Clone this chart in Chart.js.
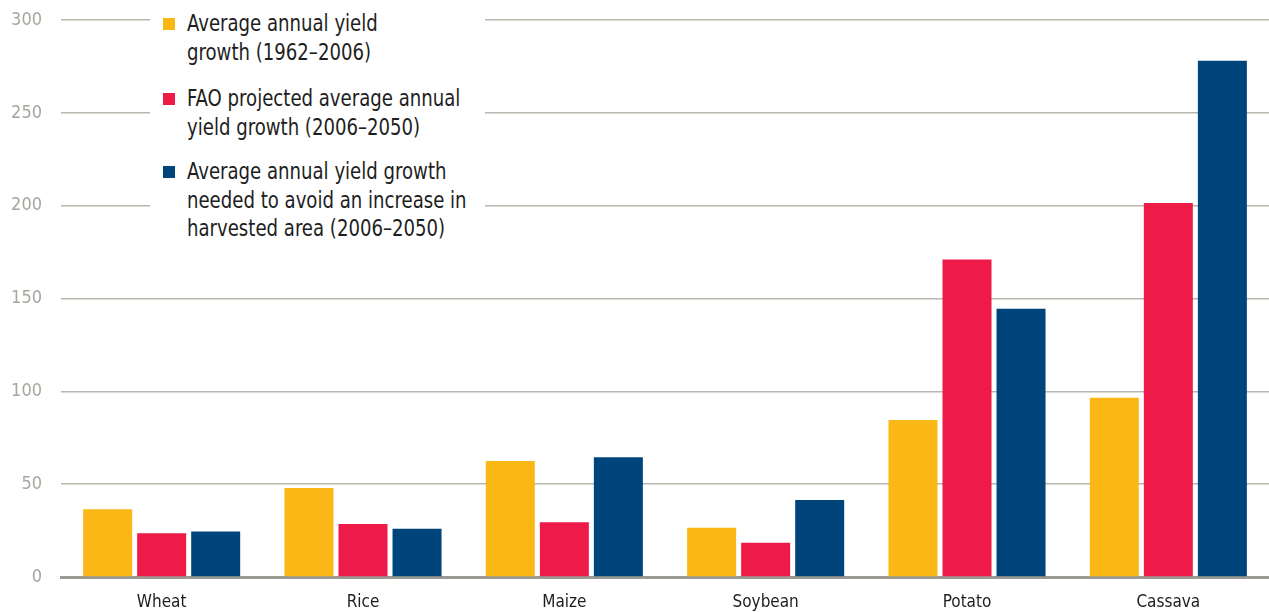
<!DOCTYPE html>
<html>
<head>
<meta charset="utf-8">
<script src="https://cdn.jsdelivr.net/npm/chart.js@4.4.1/dist/chart.umd.min.js"></script>
<style>
  html, body { margin: 0; padding: 0; background: #fff; }
  .wrap { position: relative; width: 1269px; height: 612px; }
  #legend {
    position: absolute; left: 150px; top: 0; width: 335px; height: 245px;
    background: #fff;
    font-family: "DejaVu Sans Condensed", Roboto, sans-serif;
    font-size: 23px; line-height: 28.5px; color: #1e1e1e;
  }
  .item { position: absolute; left: 37px; white-space: nowrap; }
  .item .txt { display: block; transform: scaleX(0.875); transform-origin: 0 0; }
  .item .sw { position: absolute; left: -24px; top: 9px; width: 12px; height: 12px; }
</style>
</head>
<body>
<div class="wrap">
  <canvas id="chart" width="1269" height="612"></canvas>
  <div id="legend"></div>
</div>
<script>
const crops = ['Wheat', 'Rice', 'Maize', 'Soybean', 'Potato', 'Cassava'];
const historic = [36.5, 48, 62.5, 26.5, 84.5, 96.5];
const faoProjected = [23.5, 28.5, 29.5, 18.5, 171, 201.5];
const neededGrowth = [24.5, 26, 64.5, 41.5, 144.5, 278];
const yTicks = [0, 50, 100, 150, 200, 250, 300];

const seriesNames = [
  ['Average annual yield', 'growth (1962\u20132006)'],
  ['FAO projected average annual', 'yield growth (2006\u20132050)'],
  ['Average annual yield growth', 'needed to avoid an increase in', 'harvested area (2006\u20132050)']
];
const colors = ['#FBB716', '#EE1A47', '#00447C'];

const font = '"DejaVu Sans Condensed", Roboto, sans-serif';

const chart = new Chart(document.getElementById('chart'), {
  type: 'bar',
  data: {
    labels: crops,
    datasets: [historic, faoProjected, neededGrowth].map((d, i) => ({
      label: seriesNames[i].join(' '),
      data: d,
      backgroundColor: colors[i],
      borderWidth: 0,
      categoryPercentage: 0.805,
      barPercentage: 0.907
    }))
  },
  options: {
    responsive: false,
    animation: false,
    layout: { padding: { top: 20, right: 0, left: 0, bottom: 0 } },
    plugins: { legend: { display: false }, tooltip: { enabled: false } },
    scales: {
      x: {
        grid: { display: false, drawTicks: false },
        border: { color: '#9a9a92', width: 3 },
        ticks: { color: '#1e1e1e', font: { family: font, size: 17 }, padding: 15 },
        afterFit: (axis) => { axis.height = 35; axis.paddingLeft = 0; axis.paddingRight = 0; }
      },
      y: {
        min: 0, max: 300,
        afterBuildTicks: (axis) => { axis.ticks = yTicks.map(v => ({ value: v })); },
        grid: {
          drawTicks: false,
          color: (ctx) => ctx.tick && ctx.tick.value === 0 ? 'rgba(0,0,0,0)' : '#b7b7ae',
          lineWidth: 1.5
        },
        border: { display: false },
        ticks: { color: '#a6a69e', font: { family: font, size: 18 }, padding: 19 },
        afterFit: (axis) => { axis.width = 61; axis.paddingTop = 0; axis.paddingBottom = 0; }
      }
    }
  }
});

// legend drawn as html over the plot (white box hides the gridlines behind it)
const legend = document.getElementById('legend');
const tops = [9, 84, 157];
seriesNames.forEach((lines, i) => {
  const el = document.createElement('div');
  el.className = 'item';
  el.style.top = tops[i] + 'px';
  el.innerHTML = '<span class="sw" style="background:' + colors[i] + '"></span>' +
    '<span class="txt">' + lines.join('<br>') + '</span>';
  legend.appendChild(el);
});
</script>
</body>
</html>
